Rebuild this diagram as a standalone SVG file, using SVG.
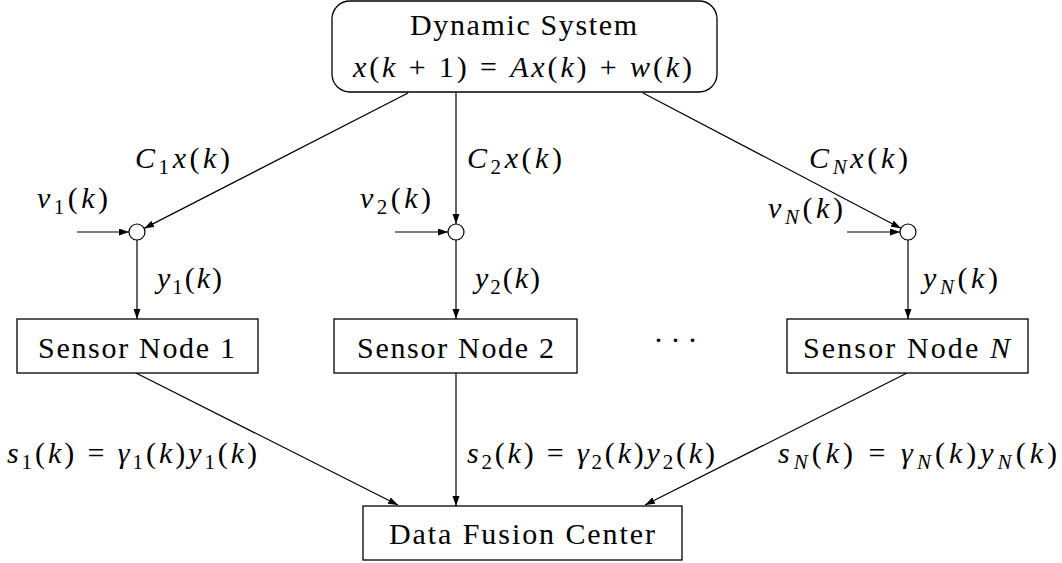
<svg xmlns="http://www.w3.org/2000/svg" width="1062" height="563" viewBox="0 0 1062 563" font-family="Liberation Serif, Times New Roman, Times, DejaVu Serif, serif">
<style>
text{font-size:30px;fill:#000}
.i{font-style:italic}
.sub{font-size:21px}
.box{fill:#fff;stroke:#000;stroke-width:1.3}
.sum{fill:#fff;stroke:#000;stroke-width:1.2}
.ln{fill:none;stroke:#000;stroke-width:1.2;marker-end:url(#ah)}
</style>
<defs>
<marker id="ah" markerUnits="userSpaceOnUse" markerWidth="10" markerHeight="8" refX="10" refY="3.5" orient="auto">
<path d="M0,0 L10,3.5 L0,7 z" fill="#000"/>
</marker>
</defs>
<rect width="1062" height="563" fill="#fff"/>
<g id="connectors">
<path class="ln" d="M408,93 L144.1,228.4"/>
<path class="ln" d="M456,93 L456,224"/>
<path class="ln" d="M643,93 L900.9,228.3"/>
<path class="ln" d="M77,232 L129,232"/>
<path class="ln" d="M395,232 L448,232"/>
<path class="ln" d="M847,232 L900,232"/>
<path class="ln" d="M137,240 L137,319"/>
<path class="ln" d="M456,240 L456,319"/>
<path class="ln" d="M908,240 L908,319"/>
<path class="ln" d="M136,373 L398,505"/>
<path class="ln" d="M456,373 L456,506"/>
<path class="ln" d="M907,373 L645,505"/>
</g>
<g id="sum-1"><circle class="sum" cx="137" cy="232" r="8"/></g>
<g id="sum-2"><circle class="sum" cx="456" cy="232" r="8"/></g>
<g id="sum-n"><circle class="sum" cx="908" cy="232" r="8"/></g>
<g id="labels">
<text x="135" y="168" textLength="95" lengthAdjust="spacing"><tspan class="i">C</tspan><tspan class="sub" dy="6">1</tspan><tspan class="i" dy="-6">x</tspan>(<tspan class="i">k</tspan>)</text>
<text x="37" y="208" textLength="71" lengthAdjust="spacing"><tspan class="i">v</tspan><tspan class="sub" dy="6">1</tspan><tspan dy="-6">(</tspan><tspan class="i">k</tspan>)</text>
<text x="157" y="288" textLength="65" lengthAdjust="spacing"><tspan class="i">y</tspan><tspan class="sub" dy="6">1</tspan><tspan dy="-6">(</tspan><tspan class="i">k</tspan>)</text>
<text x="467" y="168" textLength="95" lengthAdjust="spacing"><tspan class="i">C</tspan><tspan class="sub" dy="6">2</tspan><tspan class="i" dy="-6">x</tspan>(<tspan class="i">k</tspan>)</text>
<text x="360" y="208" textLength="71" lengthAdjust="spacing"><tspan class="i">v</tspan><tspan class="sub" dy="6">2</tspan><tspan dy="-6">(</tspan><tspan class="i">k</tspan>)</text>
<text x="475" y="288" textLength="65" lengthAdjust="spacing"><tspan class="i">y</tspan><tspan class="sub" dy="6">2</tspan><tspan dy="-6">(</tspan><tspan class="i">k</tspan>)</text>
<text x="809" y="168" textLength="99" lengthAdjust="spacing"><tspan class="i">C</tspan><tspan class="sub i" dy="6">N</tspan><tspan class="i" dy="-6">x</tspan>(<tspan class="i">k</tspan>)</text>
<text x="768" y="218" textLength="75" lengthAdjust="spacing"><tspan class="i">v</tspan><tspan class="sub i" dy="6">N</tspan><tspan dy="-6">(</tspan><tspan class="i">k</tspan>)</text>
<text x="923" y="288" textLength="75" lengthAdjust="spacing"><tspan class="i">y</tspan><tspan class="sub i" dy="6">N</tspan><tspan dy="-6">(</tspan><tspan class="i">k</tspan>)</text>
<text x="7" y="463" textLength="250" lengthAdjust="spacing"><tspan class="i">s</tspan><tspan class="sub" dy="6">1</tspan><tspan dy="-6">(</tspan><tspan class="i">k</tspan>) = <tspan class="i">γ</tspan><tspan class="sub" dy="6">1</tspan><tspan dy="-6">(</tspan><tspan class="i">k</tspan>)<tspan class="i">y</tspan><tspan class="sub" dy="6">1</tspan><tspan dy="-6">(</tspan><tspan class="i">k</tspan>)</text>
<text x="467" y="463" textLength="248" lengthAdjust="spacing"><tspan class="i">s</tspan><tspan class="sub" dy="6">2</tspan><tspan dy="-6">(</tspan><tspan class="i">k</tspan>) = <tspan class="i">γ</tspan><tspan class="sub" dy="6">2</tspan><tspan dy="-6">(</tspan><tspan class="i">k</tspan>)<tspan class="i">y</tspan><tspan class="sub" dy="6">2</tspan><tspan dy="-6">(</tspan><tspan class="i">k</tspan>)</text>
<text x="778" y="463" textLength="279" lengthAdjust="spacing"><tspan class="i">s</tspan><tspan class="sub i" dy="6">N</tspan><tspan dy="-6">(</tspan><tspan class="i">k</tspan>) = <tspan class="i">γ</tspan><tspan class="sub i" dy="6">N</tspan><tspan dy="-6">(</tspan><tspan class="i">k</tspan>)<tspan class="i">y</tspan><tspan class="sub i" dy="6">N</tspan><tspan dy="-6">(</tspan><tspan class="i">k</tspan>)</text>
<text x="679" y="350" text-anchor="middle" letter-spacing="7">···</text>
</g>
<g id="dynamic-system">
<rect class="box" x="332" y="1" width="385" height="91" rx="18"/>
<text x="410" y="35" textLength="227" lengthAdjust="spacing">Dynamic System</text>
<text x="353" y="77" textLength="339" lengthAdjust="spacing"><tspan class="i">x</tspan>(<tspan class="i">k</tspan> + 1) = <tspan class="i">Ax</tspan>(<tspan class="i">k</tspan>) + <tspan class="i">w</tspan>(<tspan class="i">k</tspan>)</text>
</g>
<g id="sensor-1">
<rect class="box" x="17" y="319" width="241" height="54"/>
<text x="38" y="358" textLength="197" lengthAdjust="spacing">Sensor Node 1</text>
</g>
<g id="sensor-2">
<rect class="box" x="334" y="319" width="243" height="54"/>
<text x="357" y="358" textLength="197" lengthAdjust="spacing">Sensor Node 2</text>
</g>
<g id="sensor-n">
<rect class="box" x="787" y="319" width="241" height="54"/>
<text x="803" y="358" textLength="207" lengthAdjust="spacing">Sensor Node <tspan class="i">N</tspan></text>
</g>
<g id="fusion-center">
<rect class="box" x="363" y="506" width="319" height="54"/>
<text x="389" y="544" textLength="266" lengthAdjust="spacing">Data Fusion Center</text>
</g>
</svg>
